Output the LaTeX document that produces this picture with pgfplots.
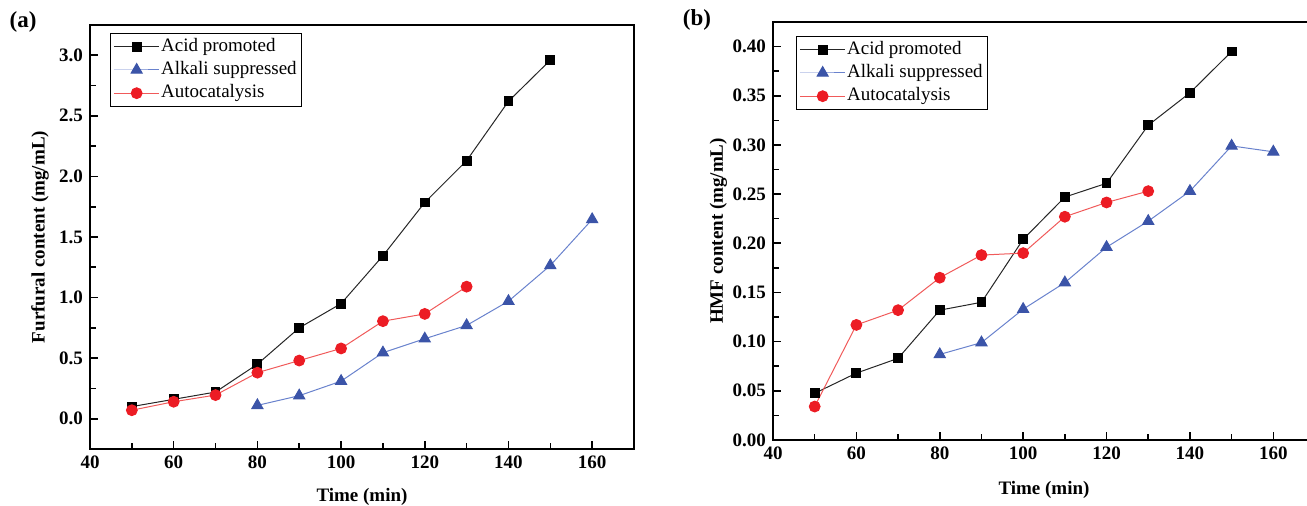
\documentclass[border=0pt]{standalone}
\usepackage{fontspec}
\setmainfont{Liberation Serif}
\usepackage{pgfplots}
\pgfplotsset{compat=1.18}
\definecolor{cblue}{RGB}{59,84,168}
\definecolor{cbluel}{RGB}{105,130,205}
\definecolor{cred}{RGB}{236,28,36}
\definecolor{credl}{RGB}{240,90,90}

\pgfplotsset{
 myaxis/.style={
  scale only axis,
  axis line style={line width=1pt},
  tick align=inside, xtick pos=bottom, ytick pos=left,
  major tick length=4pt, minor tick length=3pt,
  every tick/.style={line width=0.8pt, black},
  xmin=40, xmax=170, xtick={40,60,...,160}, minor x tick num=1,
  tick label style={font=\fontsize{9.5}{11}\selectfont\bfseries},
  /pgf/number format/assume math mode=true,
  label style={font=\fontsize{9.5}{11}\selectfont\bfseries},
  xlabel={Time (min)},
  xlabel style={at={(axis description cs:0.5,0)}, anchor=center, yshift=-24pt},
  legend cell align=left,
  legend style={draw=black, font=\fontsize{9.5}{11}\selectfont, inner sep=1.5pt, row sep=1.2pt,
    nodes={inner sep=0.6pt, text height=7pt, text depth=2.2pt}, anchor=north west},
  legend image code/.code={\draw[mark repeat=2,mark phase=2] plot coordinates {(0cm,0cm)(0.4cm,0cm)(0.8cm,0cm)};},
 },
 acid/.style={line width=0.5pt, black!85, mark=square*, mark size=2.2pt, mark options={fill=black, draw=black, solid}},
 alk/.style={line width=0.5pt, cbluel, mark=triangle*, mark size=3.2pt, mark options={fill=cblue, draw=cblue, solid}},
 aut/.style={line width=0.5pt, credl, mark=*, mark size=2.7pt, mark options={fill=cred, draw=cred, solid}},
}

\begin{document}
\begin{tikzpicture}
% ---------------- (a) ----------------
\begin{axis}[myaxis,
  at={(45pt,28.5pt)}, anchor=south west,
  width=272pt, height=212pt,
  ymin=-0.25, ymax=3.25, ytick={0,0.5,...,3.0}, minor y tick num=1,
  yticklabel style={/pgf/number format/.cd, fixed, fixed zerofill, precision=1},
  ylabel={Furfural content (mg/mL)},
  ylabel style={at={(axis description cs:-0.092,0.5)}, anchor=center},
  legend style={at={(axis description cs:0,1)}, xshift=10pt, yshift=-4pt},
]
\addplot[acid] coordinates {(50,0.10) (60,0.16) (70,0.22) (80,0.45) (90,0.75) (100,0.95) (110,1.345) (120,1.785) (130,2.13) (140,2.62) (150,2.96)};
\addplot[alk] coordinates {(80,0.11) (90,0.19) (100,0.31) (110,0.545) (120,0.66) (130,0.77) (140,0.97) (150,1.265) (160,1.645)};
\addplot[aut] coordinates {(50,0.07) (60,0.14) (70,0.195) (80,0.38) (90,0.48) (100,0.58) (110,0.805) (120,0.865) (130,1.09)};
\legend{Acid promoted, Alkali suppressed, Autocatalysis}
\end{axis}
% ---------------- (b) ----------------
\begin{axis}[myaxis,
  at={(386.5pt,33pt)}, anchor=south west,
  width=271pt, height=209pt,
  ymin=0, ymax=0.425, ytick={0,0.05,...,0.41}, minor y tick num=1,
  yticklabel style={/pgf/number format/.cd, fixed, fixed zerofill, precision=2},
  ylabel={HMF content (mg/mL)},
  ylabel style={at={(axis description cs:-0.101,0.5)}, anchor=center},
  xlabel style={yshift=-1pt},
  legend style={at={(axis description cs:0,1)}, xshift=11.5pt, yshift=-7pt},
]
\addplot[acid] coordinates {(50,0.0475) (60,0.068) (70,0.083) (80,0.132) (90,0.140) (100,0.204) (110,0.247) (120,0.261) (130,0.320) (140,0.353) (150,0.395)};
\addplot[alk] coordinates {(80,0.087) (90,0.099) (100,0.133) (110,0.160) (120,0.196) (130,0.2225) (140,0.253) (150,0.299) (160,0.293)};
\addplot[aut] coordinates {(50,0.034) (60,0.117) (70,0.132) (80,0.165) (90,0.188) (100,0.190) (110,0.227) (120,0.2415) (130,0.253)};
\legend{Acid promoted, Alkali suppressed, Autocatalysis}
\end{axis}
\node[font=\fontsize{11.5}{13}\selectfont\bfseries] at (11.5pt,242pt) {(a)};
\node[font=\fontsize{11.5}{13}\selectfont\bfseries] at (348.5pt,243pt) {(b)};
\pgfresetboundingbox
\useasboundingbox (0,0) rectangle (653.5pt,253pt);
\end{tikzpicture}
\end{document}
